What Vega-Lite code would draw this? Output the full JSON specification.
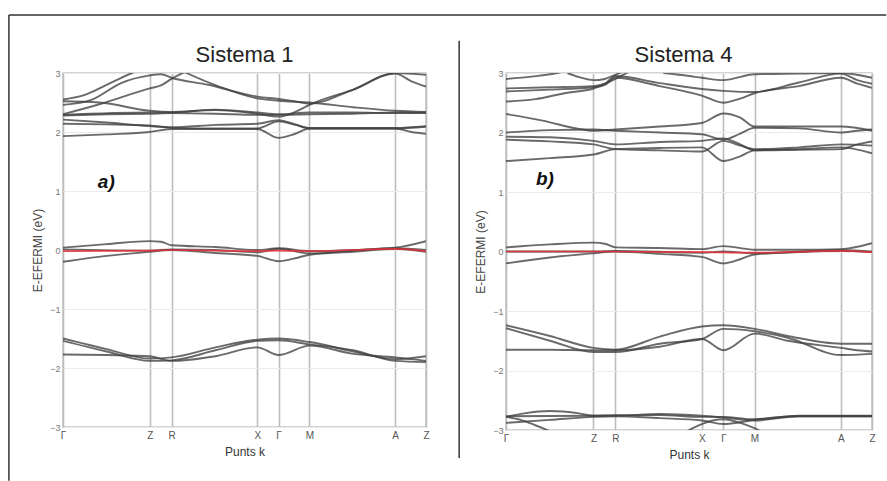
{
"$schema": "https://vega.github.io/schema/vega-lite/v6.json",
"padding": {"left": 7, "top": 13, "right": 0, "bottom": 0},
"background": "white",
"spacing": 80,
"bounds": "flush",
"config": {"view": {"stroke": "#c6c6c6", "strokeWidth": 1.5}, "font": "Liberation Sans"},
"datasets": {
"p1": [
{"b":"U1","k":0,"e":2.55},{"b":"U1","k":0.06,"e":2.63},{"b":"U1","k":0.12,"e":2.8},{"b":"U1","k":0.19,"e":3.0},{"b":"U1","k":0.24,"e":3.12},{"b":"U1","k":0.29,"e":3.15},{"b":"U1","k":0.34,"e":3.0},{"b":"U1","k":0.43,"e":2.77},{"b":"U1","k":0.535,"e":2.57},{"b":"U1","k":0.594,"e":2.53},{"b":"U1","k":0.679,"e":2.5},{"b":"U1","k":0.8,"e":2.42},{"b":"U1","k":0.915,"e":2.36},{"b":"U1","k":1,"e":2.34},
{"b":"U2","k":0,"e":2.52},{"b":"U2","k":0.1,"e":2.5},{"b":"U2","k":0.239,"e":2.36},{"b":"U2","k":0.299,"e":2.34},{"b":"U2","k":0.42,"e":2.37},{"b":"U2","k":0.535,"e":2.31},{"b":"U2","k":0.594,"e":2.26},{"b":"U2","k":0.64,"e":2.34},{"b":"U2","k":0.679,"e":2.46},{"b":"U2","k":0.8,"e":2.72},{"b":"U2","k":0.915,"e":2.99},{"b":"U2","k":0.96,"e":2.86},{"b":"U2","k":1,"e":2.77},
{"b":"U3","k":0,"e":2.46},{"b":"U3","k":0.08,"e":2.55},{"b":"U3","k":0.16,"e":2.83},{"b":"U3","k":0.239,"e":2.96},{"b":"U3","k":0.27,"e":2.98},{"b":"U3","k":0.299,"e":2.92},{"b":"U3","k":0.4,"e":2.8},{"b":"U3","k":0.535,"e":2.6},{"b":"U3","k":0.594,"e":2.56},{"b":"U3","k":0.64,"e":2.52},{"b":"U3","k":0.679,"e":2.48},{"b":"U3","k":0.8,"e":2.72},{"b":"U3","k":0.915,"e":3.0},{"b":"U3","k":1,"e":2.97},
{"b":"U4","k":0,"e":2.3},{"b":"U4","k":0.1,"e":2.47},{"b":"U4","k":0.239,"e":2.74},{"b":"U4","k":0.27,"e":2.79},{"b":"U4","k":0.299,"e":2.9},{"b":"U4","k":0.33,"e":3.0},{"b":"U4","k":0.37,"e":3.12},
{"b":"U5","k":0,"e":2.29},{"b":"U5","k":0.239,"e":2.33},{"b":"U5","k":0.299,"e":2.33},{"b":"U5","k":0.42,"e":2.38},{"b":"U5","k":0.535,"e":2.33},{"b":"U5","k":0.594,"e":2.3},{"b":"U5","k":0.679,"e":2.33},{"b":"U5","k":0.8,"e":2.33},{"b":"U5","k":0.915,"e":2.32},{"b":"U5","k":1,"e":2.32},
{"b":"U6","k":0,"e":2.28},{"b":"U6","k":0.12,"e":2.3},{"b":"U6","k":0.239,"e":2.31},{"b":"U6","k":0.299,"e":2.32},{"b":"U6","k":0.42,"e":2.31},{"b":"U6","k":0.535,"e":2.29},{"b":"U6","k":0.594,"e":2.29},{"b":"U6","k":0.679,"e":2.3},{"b":"U6","k":0.8,"e":2.31},{"b":"U6","k":0.915,"e":2.33},{"b":"U6","k":1,"e":2.33},
{"b":"V1","k":0,"e":2.21},{"b":"V1","k":0.12,"e":2.16},{"b":"V1","k":0.239,"e":2.1},{"b":"V1","k":0.299,"e":2.08},{"b":"V1","k":0.42,"e":2.12},{"b":"V1","k":0.535,"e":2.14},{"b":"V1","k":0.594,"e":2.2},{"b":"V1","k":0.64,"e":2.13},{"b":"V1","k":0.679,"e":2.07},{"b":"V1","k":0.8,"e":2.07},{"b":"V1","k":0.915,"e":2.07},{"b":"V1","k":1,"e":2.1},
{"b":"V2","k":0,"e":2.14},{"b":"V2","k":0.12,"e":2.13},{"b":"V2","k":0.239,"e":2.11},{"b":"V2","k":0.299,"e":2.07},{"b":"V2","k":0.42,"e":2.06},{"b":"V2","k":0.535,"e":2.06},{"b":"V2","k":0.594,"e":2.18},{"b":"V2","k":0.64,"e":2.12},{"b":"V2","k":0.679,"e":2.06},{"b":"V2","k":0.8,"e":2.06},{"b":"V2","k":0.915,"e":2.06},{"b":"V2","k":1,"e":2.09},
{"b":"V3","k":0,"e":1.93},{"b":"V3","k":0.12,"e":1.96},{"b":"V3","k":0.239,"e":2.0},{"b":"V3","k":0.299,"e":2.05},{"b":"V3","k":0.42,"e":2.05},{"b":"V3","k":0.535,"e":2.05},{"b":"V3","k":0.594,"e":1.9},{"b":"V3","k":0.64,"e":1.97},{"b":"V3","k":0.679,"e":2.06},{"b":"V3","k":0.8,"e":2.06},{"b":"V3","k":0.915,"e":2.06},{"b":"V3","k":0.96,"e":2.0},{"b":"V3","k":1,"e":1.97},
{"b":"Z1","k":0,"e":0.04},{"b":"Z1","k":0.12,"e":0.1},{"b":"Z1","k":0.239,"e":0.15},{"b":"Z1","k":0.27,"e":0.14},{"b":"Z1","k":0.299,"e":0.08},{"b":"Z1","k":0.42,"e":0.05},{"b":"Z1","k":0.535,"e":0.0},{"b":"Z1","k":0.594,"e":0.03},{"b":"Z1","k":0.679,"e":-0.02},{"b":"Z1","k":0.8,"e":0.0},{"b":"Z1","k":0.915,"e":0.04},{"b":"Z1","k":1,"e":0.15},
{"b":"Z2","k":0,"e":-0.2},{"b":"Z2","k":0.12,"e":-0.1},{"b":"Z2","k":0.239,"e":-0.03},{"b":"Z2","k":0.299,"e":0.0},{"b":"Z2","k":0.42,"e":-0.05},{"b":"Z2","k":0.535,"e":-0.1},{"b":"Z2","k":0.594,"e":-0.19},{"b":"Z2","k":0.64,"e":-0.14},{"b":"Z2","k":0.679,"e":-0.08},{"b":"Z2","k":0.8,"e":-0.03},{"b":"Z2","k":0.915,"e":0.02},{"b":"Z2","k":1,"e":-0.03},
{"b":"Z3","k":0,"e":0.01},{"b":"Z3","k":0.239,"e":-0.01},{"b":"Z3","k":0.299,"e":0.01},{"b":"Z3","k":0.42,"e":0.0},{"b":"Z3","k":0.535,"e":-0.04},{"b":"Z3","k":0.594,"e":0.02},{"b":"Z3","k":0.679,"e":-0.06},{"b":"Z3","k":0.8,"e":-0.01},{"b":"Z3","k":0.915,"e":0.03},{"b":"Z3","k":1,"e":0.0},
{"b":"F","k":0,"e":-0.02},{"b":"F","k":0.239,"e":-0.01},{"b":"F","k":0.299,"e":0.0},{"b":"F","k":0.535,"e":-0.02},{"b":"F","k":0.594,"e":-0.01},{"b":"F","k":0.679,"e":-0.02},{"b":"F","k":0.915,"e":0.02},{"b":"F","k":1,"e":-0.02},
{"b":"L1","k":0,"e":-1.5},{"b":"L1","k":0.12,"e":-1.68},{"b":"L1","k":0.239,"e":-1.84},{"b":"L1","k":0.299,"e":-1.82},{"b":"L1","k":0.42,"e":-1.65},{"b":"L1","k":0.535,"e":-1.52},{"b":"L1","k":0.594,"e":-1.5},{"b":"L1","k":0.679,"e":-1.56},{"b":"L1","k":0.8,"e":-1.72},{"b":"L1","k":0.915,"e":-1.85},{"b":"L1","k":1,"e":-1.8},
{"b":"L2","k":0,"e":-1.54},{"b":"L2","k":0.12,"e":-1.72},{"b":"L2","k":0.239,"e":-1.88},{"b":"L2","k":0.299,"e":-1.87},{"b":"L2","k":0.42,"e":-1.7},{"b":"L2","k":0.535,"e":-1.54},{"b":"L2","k":0.594,"e":-1.53},{"b":"L2","k":0.679,"e":-1.6},{"b":"L2","k":0.8,"e":-1.7},{"b":"L2","k":0.915,"e":-1.88},{"b":"L2","k":1,"e":-1.9},
{"b":"L3","k":0,"e":-1.77},{"b":"L3","k":0.12,"e":-1.78},{"b":"L3","k":0.239,"e":-1.8},{"b":"L3","k":0.299,"e":-1.88},{"b":"L3","k":0.42,"e":-1.8},{"b":"L3","k":0.535,"e":-1.65},{"b":"L3","k":0.594,"e":-1.78},{"b":"L3","k":0.679,"e":-1.62},{"b":"L3","k":0.8,"e":-1.76},{"b":"L3","k":0.915,"e":-1.82},{"b":"L3","k":1,"e":-1.88}
],
"p2": [
{"b":"X1","k":0,"e":2.9},{"b":"X1","k":0.07,"e":2.94},{"b":"X1","k":0.14,"e":3.0},{"b":"X1","k":0.2,"e":3.1},
{"b":"X5","k":0.168,"e":3.0},{"b":"X5","k":0.2,"e":2.93},{"b":"X5","k":0.239,"e":2.88},{"b":"X5","k":0.27,"e":2.9},{"b":"X5","k":0.299,"e":2.97},{"b":"X5","k":0.33,"e":3.05},
{"b":"X2","k":0,"e":2.74},{"b":"X2","k":0.12,"e":2.76},{"b":"X2","k":0.239,"e":2.78},{"b":"X2","k":0.27,"e":2.82},{"b":"X2","k":0.299,"e":2.95},{"b":"X2","k":0.42,"e":2.83},{"b":"X2","k":0.535,"e":2.73},{"b":"X2","k":0.594,"e":2.7},{"b":"X2","k":0.679,"e":2.68},{"b":"X2","k":0.8,"e":2.84},{"b":"X2","k":0.915,"e":2.99},{"b":"X2","k":0.96,"e":2.88},{"b":"X2","k":1,"e":2.82},
{"b":"X3","k":0,"e":2.69},{"b":"X3","k":0.12,"e":2.72},{"b":"X3","k":0.239,"e":2.76},{"b":"X3","k":0.27,"e":2.8},{"b":"X3","k":0.299,"e":2.92},{"b":"X3","k":0.42,"e":2.78},{"b":"X3","k":0.535,"e":2.62},{"b":"X3","k":0.594,"e":2.5},{"b":"X3","k":0.64,"e":2.57},{"b":"X3","k":0.679,"e":2.66},{"b":"X3","k":0.8,"e":2.78},{"b":"X3","k":0.915,"e":2.92},{"b":"X3","k":0.96,"e":2.82},{"b":"X3","k":1,"e":2.75},
{"b":"X4","k":0,"e":2.52},{"b":"X4","k":0.08,"e":2.56},{"b":"X4","k":0.16,"e":2.66},{"b":"X4","k":0.239,"e":2.74},{"b":"X4","k":0.299,"e":2.9},{"b":"X4","k":0.33,"e":3.0},{"b":"X4","k":0.36,"e":3.1},
{"b":"X6","k":0.43,"e":3.0},{"b":"X6","k":0.5,"e":2.95},{"b":"X6","k":0.535,"e":2.92},{"b":"X6","k":0.594,"e":2.88},{"b":"X6","k":0.679,"e":2.98},{"b":"X6","k":0.8,"e":2.99},{"b":"X6","k":0.915,"e":3.0},{"b":"X6","k":1,"e":2.92},
{"b":"W1","k":0,"e":2.31},{"b":"W1","k":0.1,"e":2.2},{"b":"W1","k":0.2,"e":2.06},{"b":"W1","k":0.239,"e":2.03},{"b":"W1","k":0.299,"e":2.05},{"b":"W1","k":0.42,"e":2.1},{"b":"W1","k":0.535,"e":2.16},{"b":"W1","k":0.594,"e":2.32},{"b":"W1","k":0.64,"e":2.25},{"b":"W1","k":0.679,"e":2.1},{"b":"W1","k":0.8,"e":2.1},{"b":"W1","k":0.915,"e":2.1},{"b":"W1","k":1,"e":2.03},
{"b":"W2","k":0,"e":2.0},{"b":"W2","k":0.12,"e":2.04},{"b":"W2","k":0.239,"e":2.05},{"b":"W2","k":0.299,"e":2.03},{"b":"W2","k":0.42,"e":2.0},{"b":"W2","k":0.535,"e":1.97},{"b":"W2","k":0.594,"e":1.88},{"b":"W2","k":0.64,"e":1.98},{"b":"W2","k":0.679,"e":2.08},{"b":"W2","k":0.8,"e":2.07},{"b":"W2","k":0.915,"e":2.0},{"b":"W2","k":0.96,"e":2.03},{"b":"W2","k":1,"e":2.05},
{"b":"W3","k":0,"e":1.93},{"b":"W3","k":0.12,"e":1.92},{"b":"W3","k":0.239,"e":1.86},{"b":"W3","k":0.299,"e":1.8},{"b":"W3","k":0.42,"e":1.84},{"b":"W3","k":0.535,"e":1.86},{"b":"W3","k":0.594,"e":1.9},{"b":"W3","k":0.64,"e":1.8},{"b":"W3","k":0.679,"e":1.7},{"b":"W3","k":0.8,"e":1.71},{"b":"W3","k":0.915,"e":1.72},{"b":"W3","k":0.96,"e":1.8},{"b":"W3","k":1,"e":1.85},
{"b":"W4","k":0,"e":1.88},{"b":"W4","k":0.12,"e":1.85},{"b":"W4","k":0.239,"e":1.8},{"b":"W4","k":0.299,"e":1.72},{"b":"W4","k":0.42,"e":1.7},{"b":"W4","k":0.535,"e":1.68},{"b":"W4","k":0.594,"e":1.86},{"b":"W4","k":0.64,"e":1.78},{"b":"W4","k":0.679,"e":1.72},{"b":"W4","k":0.8,"e":1.75},{"b":"W4","k":0.915,"e":1.8},{"b":"W4","k":1,"e":1.78},
{"b":"W5","k":0,"e":1.52},{"b":"W5","k":0.12,"e":1.57},{"b":"W5","k":0.239,"e":1.63},{"b":"W5","k":0.299,"e":1.72},{"b":"W5","k":0.42,"e":1.74},{"b":"W5","k":0.535,"e":1.75},{"b":"W5","k":0.594,"e":1.52},{"b":"W5","k":0.64,"e":1.6},{"b":"W5","k":0.679,"e":1.7},{"b":"W5","k":0.8,"e":1.72},{"b":"W5","k":0.915,"e":1.75},{"b":"W5","k":1,"e":1.65},
{"b":"Z1","k":0,"e":0.07},{"b":"Z1","k":0.12,"e":0.12},{"b":"Z1","k":0.239,"e":0.15},{"b":"Z1","k":0.27,"e":0.13},{"b":"Z1","k":0.299,"e":0.07},{"b":"Z1","k":0.42,"e":0.06},{"b":"Z1","k":0.535,"e":0.04},{"b":"Z1","k":0.594,"e":0.09},{"b":"Z1","k":0.679,"e":0.03},{"b":"Z1","k":0.8,"e":0.03},{"b":"Z1","k":0.915,"e":0.04},{"b":"Z1","k":1,"e":0.14},
{"b":"Z2","k":0,"e":-0.2},{"b":"Z2","k":0.12,"e":-0.1},{"b":"Z2","k":0.239,"e":-0.03},{"b":"Z2","k":0.299,"e":0.0},{"b":"Z2","k":0.42,"e":-0.04},{"b":"Z2","k":0.535,"e":-0.09},{"b":"Z2","k":0.594,"e":-0.2},{"b":"Z2","k":0.64,"e":-0.13},{"b":"Z2","k":0.679,"e":-0.05},{"b":"Z2","k":0.8,"e":-0.01},{"b":"Z2","k":0.915,"e":0.01},{"b":"Z2","k":1,"e":-0.01},
{"b":"Z3","k":0,"e":0.0},{"b":"Z3","k":0.239,"e":0.0},{"b":"Z3","k":0.299,"e":0.01},{"b":"Z3","k":0.535,"e":-0.02},{"b":"Z3","k":0.594,"e":0.0},{"b":"Z3","k":0.679,"e":-0.03},{"b":"Z3","k":0.915,"e":0.02},{"b":"Z3","k":1,"e":0.0},
{"b":"F","k":0,"e":0.0},{"b":"F","k":0.239,"e":0.0},{"b":"F","k":0.535,"e":-0.01},{"b":"F","k":0.679,"e":-0.02},{"b":"F","k":0.915,"e":0.01},{"b":"F","k":1,"e":-0.01},
{"b":"M1","k":0,"e":-1.24},{"b":"M1","k":0.12,"e":-1.42},{"b":"M1","k":0.239,"e":-1.62},{"b":"M1","k":0.299,"e":-1.65},{"b":"M1","k":0.42,"e":-1.43},{"b":"M1","k":0.535,"e":-1.26},{"b":"M1","k":0.594,"e":-1.24},{"b":"M1","k":0.679,"e":-1.3},{"b":"M1","k":0.77,"e":-1.42},{"b":"M1","k":0.915,"e":-1.55},{"b":"M1","k":1,"e":-1.55},
{"b":"M2","k":0,"e":-1.29},{"b":"M2","k":0.12,"e":-1.5},{"b":"M2","k":0.239,"e":-1.69},{"b":"M2","k":0.299,"e":-1.69},{"b":"M2","k":0.42,"e":-1.55},{"b":"M2","k":0.535,"e":-1.47},{"b":"M2","k":0.594,"e":-1.3},{"b":"M2","k":0.679,"e":-1.34},{"b":"M2","k":0.77,"e":-1.45},{"b":"M2","k":0.915,"e":-1.74},{"b":"M2","k":1,"e":-1.72},
{"b":"M3","k":0,"e":-1.65},{"b":"M3","k":0.12,"e":-1.65},{"b":"M3","k":0.239,"e":-1.66},{"b":"M3","k":0.299,"e":-1.66},{"b":"M3","k":0.42,"e":-1.6},{"b":"M3","k":0.535,"e":-1.47},{"b":"M3","k":0.594,"e":-1.66},{"b":"M3","k":0.679,"e":-1.38},{"b":"M3","k":0.77,"e":-1.5},{"b":"M3","k":0.915,"e":-1.62},{"b":"M3","k":0.96,"e":-1.66},{"b":"M3","k":1,"e":-1.68},
{"b":"N1","k":0,"e":-2.77},{"b":"N1","k":0.239,"e":-2.76},{"b":"N1","k":0.299,"e":-2.75},{"b":"N1","k":0.42,"e":-2.75},{"b":"N1","k":0.535,"e":-2.78},{"b":"N1","k":0.594,"e":-2.78},{"b":"N1","k":0.679,"e":-2.82},{"b":"N1","k":0.8,"e":-2.76},{"b":"N1","k":0.915,"e":-2.76},{"b":"N1","k":1,"e":-2.76},
{"b":"N2","k":0,"e":-2.78},{"b":"N2","k":0.05,"e":-2.72},{"b":"N2","k":0.12,"e":-2.68},{"b":"N2","k":0.2,"e":-2.72},{"b":"N2","k":0.239,"e":-2.76},{"b":"N2","k":0.299,"e":-2.76},{"b":"N2","k":0.42,"e":-2.73},{"b":"N2","k":0.535,"e":-2.76},{"b":"N2","k":0.594,"e":-2.79},{"b":"N2","k":0.679,"e":-2.84},{"b":"N2","k":0.8,"e":-2.77},{"b":"N2","k":0.915,"e":-2.77},{"b":"N2","k":1,"e":-2.77},
{"b":"N3","k":0,"e":-2.88},{"b":"N3","k":0.12,"e":-2.83},{"b":"N3","k":0.239,"e":-2.78},{"b":"N3","k":0.299,"e":-2.77},{"b":"N3","k":0.42,"e":-2.8},{"b":"N3","k":0.535,"e":-2.84},{"b":"N3","k":0.594,"e":-2.9},{"b":"N3","k":0.64,"e":-2.87},{"b":"N3","k":0.679,"e":-2.83},{"b":"N3","k":0.8,"e":-2.77},{"b":"N3","k":1,"e":-2.77},
{"b":"N4","k":0,"e":-2.78},{"b":"N4","k":0.04,"e":-2.83},{"b":"N4","k":0.08,"e":-2.92},{"b":"N4","k":0.12,"e":-3.02},{"b":"N4","k":0.15,"e":-3.1},
{"b":"N5","k":0.46,"e":-3.1},{"b":"N5","k":0.5,"e":-3.0},{"b":"N5","k":0.535,"e":-2.9},{"b":"N5","k":0.565,"e":-2.84},{"b":"N5","k":0.594,"e":-2.82},{"b":"N5","k":0.64,"e":-2.88},{"b":"N5","k":0.679,"e":-2.97},{"b":"N5","k":0.72,"e":-3.1}
]
},
"hconcat": [
{
"width": 363, "height": 354,
"layer": [
{"data": {"name": "p1"}, "transform": [{"filter": "datum.b != 'F'"}],
 "mark": {"type": "line", "interpolate": "monotone", "clip": true, "color": "#404040", "strokeWidth": 1.9, "opacity": 0.78},
 "encoding": {
  "x": {"field": "k", "type": "quantitative", "scale": {"domain": [0, 1], "nice": false, "zero": false},
   "axis": {"values": [0, 0.239, 0.299, 0.535, 0.594, 0.679, 0.915, 1], "labelExpr": "datum.value==0||datum.value==0.594?'Γ':datum.value==0.239||datum.value==1?'Z':datum.value==0.299?'R':datum.value==0.535?'X':datum.value==0.679?'M':'A'", "grid": true, "gridColor": "#bdbdbd", "gridWidth": 1.6, "domain": false, "ticks": false, "labelFontSize": 10, "labelColor": "#555", "labelPadding": 3, "labelOverlap": false, "labelFlush": false, "title": "Punts k", "titleFontSize": 12, "titleFontWeight": "normal", "titleColor": "#333", "titlePadding": 6}},
  "y": {"field": "e", "type": "quantitative", "scale": {"domain": [-3, 3], "nice": false},
   "axis": {"values": [-3, -2, -1, 0, 1, 2, 3], "format": "d", "grid": true, "gridColor": "#ebebeb", "gridWidth": 1.2, "domain": false, "ticks": false, "labelFontSize": 9, "labelColor": "#777", "labelPadding": 3, "title": "E-EFERMI (eV)", "titleFontSize": 12, "titleFontWeight": "normal", "titleColor": "#444", "titlePadding": 5}},
  "detail": {"field": "b"}}},
{"data": {"name": "p1"}, "transform": [{"filter": "datum.b == 'F'"}],
 "mark": {"type": "line", "interpolate": "monotone", "clip": true, "color": "#e3313b", "strokeWidth": 1.7, "opacity": 0.9},
 "encoding": {"x": {"field": "k", "type": "quantitative"}, "y": {"field": "e", "type": "quantitative"}}},
{"data": {"values": [{}]},
 "mark": {"type": "text", "text": "Sistema 1", "fontSize": 22, "align": "center", "baseline": "alphabetic", "color": "#222"},
 "encoding": {"x": {"datum": 0.5}, "y": {"datum": 3.186}}},
{"data": {"values": [{}]},
 "mark": {"type": "text", "text": "a)", "fontSize": 19, "fontWeight": "bold", "fontStyle": "italic", "align": "left", "baseline": "alphabetic", "color": "#111"},
 "encoding": {"x": {"datum": 0.096}, "y": {"datum": 1.05}}},
{"data": {"values": [{}]},
 "mark": {"type": "rule", "color": "#333", "strokeWidth": 1.5},
 "encoding": {"x": {"datum": -0.149}, "x2": {"datum": 2.268}, "y": {"datum": 3.983}}},
{"data": {"values": [{}]},
 "mark": {"type": "rule", "color": "#333", "strokeWidth": 1.5},
 "encoding": {"x": {"datum": -0.149}, "y": {"datum": 3.983}, "y2": {"datum": -3.91}}}
]
},
{
"width": 366, "height": 357,
"layer": [
{"data": {"name": "p2"}, "transform": [{"filter": "datum.b != 'F'"}],
 "mark": {"type": "line", "interpolate": "monotone", "clip": true, "color": "#404040", "strokeWidth": 1.9, "opacity": 0.78},
 "encoding": {
  "x": {"field": "k", "type": "quantitative", "scale": {"domain": [0, 1], "nice": false, "zero": false},
   "axis": {"values": [0, 0.239, 0.299, 0.535, 0.594, 0.679, 0.915, 1], "labelExpr": "datum.value==0||datum.value==0.594?'Γ':datum.value==0.239||datum.value==1?'Z':datum.value==0.299?'R':datum.value==0.535?'X':datum.value==0.679?'M':'A'", "grid": true, "gridColor": "#bdbdbd", "gridWidth": 1.6, "domain": false, "ticks": false, "labelFontSize": 10, "labelColor": "#555", "labelPadding": 3, "labelOverlap": false, "labelFlush": false, "title": "Punts k", "titleFontSize": 12, "titleFontWeight": "normal", "titleColor": "#333", "titlePadding": 6}},
  "y": {"field": "e", "type": "quantitative", "scale": {"domain": [-3, 3], "nice": false},
   "axis": {"values": [-3, -2, -1, 0, 1, 2, 3], "format": "d", "grid": true, "gridColor": "#ebebeb", "gridWidth": 1.2, "domain": false, "ticks": false, "labelFontSize": 9, "labelColor": "#777", "labelPadding": 3, "title": "E-EFERMI (eV)", "titleFontSize": 12, "titleFontWeight": "normal", "titleColor": "#444", "titlePadding": 5}},
  "detail": {"field": "b"}}},
{"data": {"name": "p2"}, "transform": [{"filter": "datum.b == 'F'"}],
 "mark": {"type": "line", "interpolate": "monotone", "clip": true, "color": "#e3313b", "strokeWidth": 1.7, "opacity": 0.9},
 "encoding": {"x": {"field": "k", "type": "quantitative"}, "y": {"field": "e", "type": "quantitative"}}},
{"data": {"values": [{}]},
 "mark": {"type": "text", "text": "Sistema 4", "fontSize": 22, "align": "center", "baseline": "alphabetic", "color": "#222"},
 "encoding": {"x": {"datum": 0.485}, "y": {"datum": 3.185}}},
{"data": {"values": [{}]},
 "mark": {"type": "text", "text": "b)", "fontSize": 19, "fontWeight": "bold", "fontStyle": "italic", "align": "left", "baseline": "alphabetic", "color": "#111"},
 "encoding": {"x": {"datum": 0.082}, "y": {"datum": 1.11}}},
{"data": {"values": [{}]},
 "mark": {"type": "rule", "color": "#333", "strokeWidth": 1.5},
 "encoding": {"x": {"datum": -0.128}, "y": {"datum": 3.54}, "y2": {"datum": -3.47}}}
]
}
]
}
